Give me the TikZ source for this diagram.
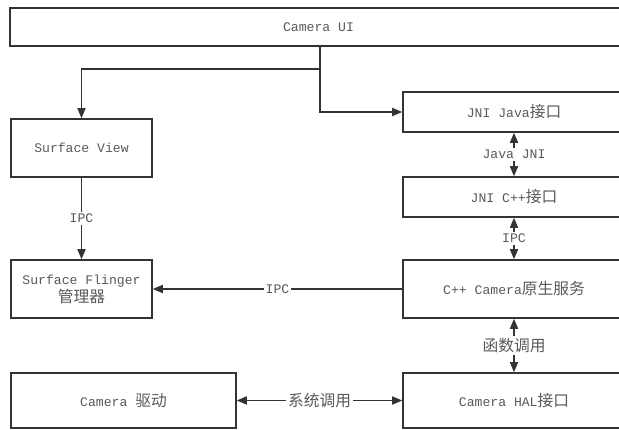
\documentclass[tikz,border=0pt]{standalone}
\usepackage{fontspec}
\setmainfont{Liberation Mono}
\newfontfamily\cjk[Scale=1.2]{Noto Sans CJK SC}
\usetikzlibrary{arrows.meta}

\begin{document}
\begin{tikzpicture}[x=0.03cm, y=-0.03cm, line width=1.3pt, draw=black!80,
        >={Triangle[length=0.3cm, width=0.24cm]},
        main/.style = {draw=black!80, rectangle, inner sep=0pt, text=black!65,
            font=\fontsize{11.2}{15.3}\selectfont, align=center},
        lbl/.style = {midway, fill=white, inner sep=1.5pt, text=black!65,
            font=\fontsize{11.2}{15.3}\selectfont}]
            \useasboundingbox (0,0) rectangle (619,430);
            \clip (0,0) rectangle (619,430);

            \node[main, minimum width=18.51cm, minimum height=1.14cm] (1) at (318.5,27)  {Camera UI};
            \node[main, minimum width=4.23cm, minimum height=1.74cm]  (2) at (81.5,148)  {Surface View};
            \node[main, minimum width=4.23cm, minimum height=1.74cm]  (3) at (81.5,289)  {Surface Flinger\\{\cjk 管理器}};
            \node[main, minimum width=6.66cm, minimum height=1.2cm]   (4) at (514,112)   {JNI Java{\cjk 接口}};
            \node[main, minimum width=6.66cm, minimum height=1.2cm]   (5) at (514,197)   {JNI C++{\cjk 接口}};
            \node[main, minimum width=6.66cm, minimum height=1.74cm]  (6) at (514,289)   {C++ Camera{\cjk 原生服务}};
            \node[main, minimum width=6.75cm, minimum height=1.65cm]  (7) at (123.5,400.5) {Camera {\cjk 驱动}};
            \node[main, minimum width=6.66cm, minimum height=1.65cm]  (8) at (514,400.5) {Camera HAL{\cjk 接口}};

            \coordinate (t) at (320,69);

            \draw (t |- 1.south) -- (t);
            \draw[->] (t) -| (2.north);
            \draw[->] (t) |- (4.west);
            \draw[->] (2) to node[lbl] {IPC} (3);
            \draw[<->] (4) to node[lbl] {Java JNI} (5);
            \draw[<->] (5) to node[lbl] {IPC} (6);
            \draw[->] (6) to node[lbl] {IPC} (3);
            \draw[<->] (6) to node[lbl] {\cjk 函数调用} (8);
            \draw[<->] (7) to node[lbl] {\cjk 系统调用} (8);
        \end{tikzpicture}
\end{document}
